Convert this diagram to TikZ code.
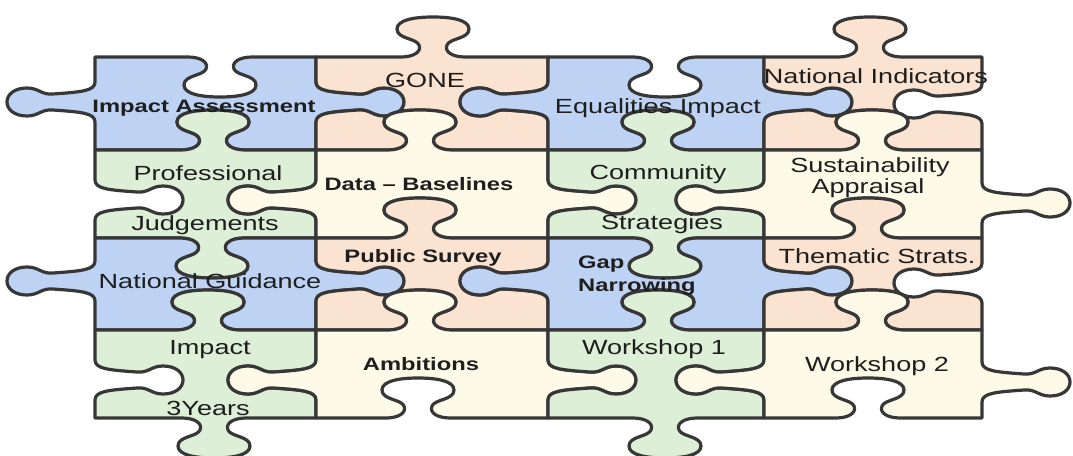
\documentclass[tikz,border=0pt]{standalone}
\usepackage{fontspec}
\newfontfamily\puzzlefont[FakeStretch=1.32]{Liberation Sans}
\definecolor{pzblue}{RGB}{190,211,244}
\definecolor{pzorange}{RGB}{251,227,209}
\definecolor{pzgreen}{RGB}{221,239,215}
\definecolor{pzcream}{RGB}{253,251,231}
\definecolor{pzline}{RGB}{55,55,55}
\definecolor{pztext}{RGB}{30,30,30}
% horizontal edge with a knob: #1 knob centre x, #2 edge y,
% #3 run (1 left to right, -1 right to left), #4 knob side (1 down, -1 up)
\newcommand\hknob[4]{%
  -- ({#1-32*(#3)},#2)
  .. controls ({#1-20*(#3)},#2) and ({#1-11*(#3)},{#2+5*(#4)}) .. ({#1-14*(#3)},{#2+12*(#4)})
  .. controls ({#1-17*(#3)},{#2+19*(#4)}) and ({#1-36*(#3)},{#2+18*(#4)}) .. ({#1-36*(#3)},{#2+28*(#4)})
  .. controls ({#1-36*(#3)},{#2+37*(#4)}) and ({#1-19*(#3)},{#2+40*(#4)}) .. (#1,{#2+40*(#4)})
  .. controls ({#1+19*(#3)},{#2+40*(#4)}) and ({#1+36*(#3)},{#2+37*(#4)}) .. ({#1+36*(#3)},{#2+28*(#4)})
  .. controls ({#1+36*(#3)},{#2+18*(#4)}) and ({#1+17*(#3)},{#2+19*(#4)}) .. ({#1+14*(#3)},{#2+12*(#4)})
  .. controls ({#1+11*(#3)},{#2+5*(#4)}) and ({#1+20*(#3)},#2) .. ({#1+32*(#3)},#2)}
% vertical edge with a knob: #1 knob centre y, #2 edge x,
% #3 run (1 downwards, -1 upwards), #4 knob side (1 right, -1 left)
\newcommand\vknob[4]{%
  -- (#2,{#1-20*(#3)})
  .. controls (#2,{#1-11*(#3)}) and ({#2+14*(#4)},{#1-10*(#3)}) .. ({#2+42*(#4)},{#1-8*(#3)})
  .. controls ({#2+54*(#4)},{#1-7*(#3)}) and ({#2+56*(#4)},{#1-14*(#3)}) .. ({#2+68*(#4)},{#1-14*(#3)})
  .. controls ({#2+80*(#4)},{#1-14*(#3)}) and ({#2+88*(#4)},{#1-8*(#3)}) .. ({#2+88*(#4)},#1)
  .. controls ({#2+88*(#4)},{#1+8*(#3)}) and ({#2+80*(#4)},{#1+14*(#3)}) .. ({#2+68*(#4)},{#1+14*(#3)})
  .. controls ({#2+56*(#4)},{#1+14*(#3)}) and ({#2+54*(#4)},{#1+7*(#3)}) .. ({#2+42*(#4)},{#1+8*(#3)})
  .. controls ({#2+14*(#4)},{#1+10*(#3)}) and (#2,{#1+11*(#3)}) .. (#2,{#1+20*(#3)})}
\begin{document}
\begin{tikzpicture}[x=1pt,y=-1pt,
    piece/.style={draw=pzline,line width=3.2pt,line join=round},
    word/.style={font=\puzzlefont\fontsize{20.5}{24}\selectfont,text=pztext,inner sep=0pt,anchor=base},
    bword/.style={word,font=\puzzlefont\bfseries\fontsize{18}{22}\selectfont}]
\useasboundingbox (0,0) rectangle (1073,455);

% first row
\path[piece,fill=pzblue] (95,57) \hknob{220}{57}{1}{1} -- (316,57) \vknob{102}{316}{1}{1} -- (316,150) \hknob{213}{150}{-1}{-1} -- (95,150) \vknob{102}{95}{-1}{-1} -- cycle;
\path[piece,fill=pzorange] (316,57) \hknob{433}{57}{1}{-1} -- (548,57) \vknob{102}{548}{1}{-1} -- (548,150) \hknob{420}{150}{-1}{-1} -- (316,150) \vknob{102}{316}{-1}{1} -- cycle;
\path[piece,fill=pzblue] (548,57) \hknob{665}{57}{1}{1} -- (764,57) \vknob{102}{764}{1}{1} -- (764,150) \hknob{658}{150}{-1}{-1} -- (548,150) \vknob{102}{548}{-1}{-1} -- cycle;
\path[piece,fill=pzorange] (764,57) \hknob{870}{57}{1}{-1} -- (982,57) \vknob{104}{982}{1}{-1} -- (982,150) \hknob{872}{150}{-1}{-1} -- (764,150) \vknob{102}{764}{-1}{1} -- cycle;

% second row
\path[piece,fill=pzgreen] (95,150) \hknob{213}{150}{1}{-1} -- (316,150) \vknob{200}{316}{1}{-1} -- (316,238) \hknob{212}{238}{-1}{1} -- (95,238) \vknob{200}{95}{-1}{1} -- cycle;
\path[piece,fill=pzcream] (316,150) \hknob{420}{150}{1}{-1} -- (548,150) \vknob{200}{548}{1}{1} -- (548,238) \hknob{420}{238}{-1}{-1} -- (316,238) \vknob{200}{316}{-1}{-1} -- cycle;
\path[piece,fill=pzgreen] (548,150) \hknob{658}{150}{1}{-1} -- (764,150) \vknob{200}{764}{1}{-1} -- (764,238) \hknob{665}{238}{-1}{1} -- (548,238) \vknob{200}{548}{-1}{1} -- cycle;
\path[piece,fill=pzcream] (764,150) \hknob{872}{150}{1}{-1} -- (982,150) \vknob{203}{982}{1}{1} -- (982,238) \hknob{868}{238}{-1}{-1} -- (764,238) \vknob{200}{764}{-1}{-1} -- cycle;

% third row
\path[piece,fill=pzblue] (95,238) \hknob{212}{238}{1}{1} -- (316,238) \vknob{281}{316}{1}{1} -- (316,330) \hknob{208}{330}{-1}{-1} -- (95,330) \vknob{281}{95}{-1}{-1} -- cycle;
\path[piece,fill=pzorange] (316,238) \hknob{420}{238}{1}{-1} -- (548,238) \vknob{281}{548}{1}{-1} -- (548,330) \hknob{420}{330}{-1}{-1} -- (316,330) \vknob{281}{316}{-1}{1} -- cycle;
\path[piece,fill=pzblue] (548,238) \hknob{665}{238}{1}{1} -- (764,238) \vknob{281}{764}{1}{1} -- (764,330) \hknob{658}{330}{-1}{-1} -- (548,330) \vknob{281}{548}{-1}{-1} -- cycle;
\path[piece,fill=pzorange] (764,238) \hknob{868}{238}{1}{-1} -- (982,238) \vknob{283}{982}{1}{-1} -- (982,330) \hknob{872}{330}{-1}{-1} -- (764,330) \vknob{281}{764}{-1}{1} -- cycle;

% fourth row
\path[piece,fill=pzgreen] (95,330) \hknob{208}{330}{1}{-1} -- (316,330) \vknob{380}{316}{1}{-1} -- (316,418) \hknob{214}{418}{-1}{1} -- (95,418) \vknob{380}{95}{-1}{1} -- cycle;
\path[piece,fill=pzcream] (316,330) \hknob{420}{330}{1}{-1} -- (548,330) \vknob{380}{548}{1}{1} -- (548,418) \hknob{418}{418}{-1}{-1} -- (316,418) \vknob{380}{316}{-1}{-1} -- cycle;
\path[piece,fill=pzgreen] (548,330) \hknob{658}{330}{1}{-1} -- (764,330) \vknob{380}{764}{1}{-1} -- (764,418) \hknob{665}{418}{-1}{1} -- (548,418) \vknob{380}{548}{-1}{1} -- cycle;
\path[piece,fill=pzcream] (764,330) \hknob{872}{330}{1}{-1} -- (982,330) \vknob{382}{982}{1}{1} -- (982,418) \hknob{868}{418}{-1}{-1} -- (764,418) \vknob{380}{764}{-1}{-1} -- cycle;

% labels
\node[bword] (impact) at (204,112) {Impact Assessment};
\node[word] (gone) at (425,87) {GONE};
\node[word] (equal) at (658,113) {Equalities Impact};
\node[word] (indic) at (876,83) {National Indicators};
\node[word] (prof) at (208,180) {Professional};
\node[word] (judg) at (205,230) {Judgements};
\node[bword] (data) at (419,190) {Data – Baselines};
\node[word] (commun) at (658,179) {Community};
\node[word] (strat) at (662,229) {Strategies};
\node[word] (sust) at (870,172) {Sustainability};
\node[word] (appr) at (868,193) {Appraisal};
\node[word] (guid) at (210,288) {National Guidance};
\node[bword] (survey) at (423,262) {Public Survey};
\node[bword,anchor=base west] (gap) at (578,268) {Gap};
\node[bword,anchor=base west] (narrow) at (578,291) {Narrowing};
\node[word] (thema) at (877,263) {Thematic Strats.};
\node[word] (impact3) at (210,354) {Impact};
\node[word] (years) at (208,415) {3Years};
\node[bword] (ambit) at (421,370) {Ambitions};
\node[word] (work1) at (654,354) {Workshop 1};
\node[word] (work2) at (877,371) {Workshop 2};
\end{tikzpicture}
\end{document}
